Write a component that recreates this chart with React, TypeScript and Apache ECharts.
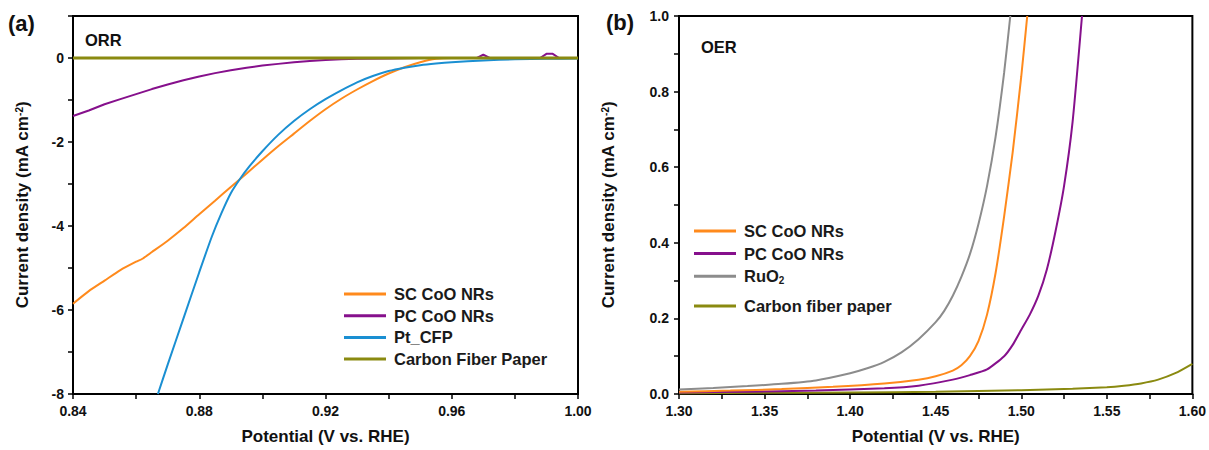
import React, { useEffect, useRef } from "react";
import * as echarts from "echarts";

// ---------- Panel (a) ORR ----------
const ORR_SC_X = [0.84, 0.845, 0.85, 0.855, 0.86, 0.862, 0.865, 0.87, 0.875, 0.88, 0.885, 0.89, 0.895, 0.9, 0.905, 0.91, 0.915, 0.92, 0.925, 0.93, 0.935, 0.94, 0.945, 0.95, 0.955, 0.96, 0.975, 0.98, 0.985, 1.0];
const ORR_SC_Y = [-5.85, -5.55, -5.3, -5.05, -4.85, -4.78, -4.62, -4.35, -4.05, -3.72, -3.4, -3.07, -2.75, -2.42, -2.1, -1.8, -1.5, -1.22, -0.97, -0.75, -0.55, -0.37, -0.22, -0.1, -0.02, 0, 0, -0.02, 0, 0];

const ORR_PC_X = [0.84, 0.845, 0.85, 0.855, 0.86, 0.865, 0.87, 0.875, 0.88, 0.885, 0.89, 0.895, 0.9, 0.905, 0.91, 0.915, 0.92, 0.925, 0.93, 0.94, 0.95, 0.968, 0.97, 0.972, 0.988, 0.99, 0.992, 0.994, 1.0];
const ORR_PC_Y = [-1.38, -1.25, -1.1, -0.98, -0.86, -0.74, -0.63, -0.53, -0.44, -0.36, -0.29, -0.23, -0.18, -0.14, -0.1, -0.07, -0.05, -0.03, -0.02, -0.01, 0, 0, 0.08, 0, 0, 0.1, 0.1, 0, 0];

const ORR_PT_X = [0.8669, 0.87, 0.875, 0.88, 0.884, 0.887, 0.89, 0.893, 0.896, 0.9, 0.905, 0.91, 0.915, 0.92, 0.925, 0.93, 0.935, 0.94, 0.945, 0.95, 0.955, 0.96, 0.97, 0.98, 0.99, 1.0];
const ORR_PT_Y = [-8, -7.3, -6.2, -5.1, -4.25, -3.7, -3.22, -2.87, -2.57, -2.22, -1.83, -1.5, -1.22, -0.98, -0.77, -0.58, -0.43, -0.31, -0.23, -0.17, -0.13, -0.1, -0.06, -0.03, -0.02, -0.01];

const ORR_CFP_X = [0.84, 1.0];
const ORR_CFP_Y = [0, 0];

// ---------- Panel (b) OER ----------
const OER_SC_X = [1.3, 1.33, 1.36, 1.39, 1.42, 1.44, 1.45, 1.46, 1.465, 1.47, 1.475, 1.48, 1.485, 1.49, 1.495, 1.5, 1.5035];
const OER_SC_Y = [0.006, 0.009, 0.013, 0.019, 0.028, 0.038, 0.047, 0.062, 0.076, 0.1, 0.14, 0.21, 0.32, 0.47, 0.64, 0.84, 1.0];

const OER_PC_X = [1.3, 1.34, 1.38, 1.42, 1.44, 1.46, 1.47, 1.48, 1.49, 1.495, 1.5, 1.505, 1.51, 1.515, 1.52, 1.525, 1.53, 1.5355];
const OER_PC_Y = [0.004, 0.006, 0.009, 0.015, 0.022, 0.038, 0.05, 0.065, 0.1, 0.13, 0.17, 0.21, 0.26, 0.33, 0.43, 0.55, 0.72, 1.0];

const OER_RU_X = [1.3, 1.32, 1.34, 1.36, 1.38, 1.4, 1.41, 1.42, 1.43, 1.44, 1.45, 1.455, 1.46, 1.465, 1.47, 1.475, 1.48, 1.485, 1.49, 1.4936];
const OER_RU_Y = [0.012, 0.016, 0.021, 0.027, 0.036, 0.055, 0.068, 0.085, 0.11, 0.145, 0.19, 0.22, 0.26, 0.31, 0.37, 0.45, 0.55, 0.68, 0.85, 1.0];

const OER_CFP_X = [1.3, 1.35, 1.4, 1.45, 1.5, 1.53, 1.55, 1.56, 1.57, 1.58, 1.59, 1.6];
const OER_CFP_Y = [0.002, 0.003, 0.004, 0.006, 0.01, 0.014, 0.018, 0.022, 0.028, 0.038, 0.055, 0.08];

const ORR_NAMES = ["SC CoO NRs", "PC CoO NRs", "Pt_CFP", "Carbon Fiber Paper"];
const OER_NAMES = ["SC CoO NRs", "PC CoO NRs", "RuO2", "Carbon fiber paper"];

const C_ORANGE = "#ff8a1c";
const C_PURPLE = "#86108c";
const C_BLUE = "#1a8fd2";
const C_GRAY = "#8c8c8c";
const C_OLIVE = "#8a8a10";

const FONT = "'Liberation Sans', Arial, sans-serif";

const zip = (xs: number[], ys: number[]) => xs.map((x, i) => [x, ys[i]]);

export default function App() {
  const ref = useRef<HTMLDivElement>(null);
  useEffect(() => {
    if (!ref.current) return;
    const chart = echarts.init(ref.current, null, { renderer: "svg" });
    const axisCommon = {
      type: "value" as const,
      splitLine: { show: false },
      axisLine: { show: true, onZero: false, lineStyle: { color: "#000", width: 2 } },
      axisTick: { show: true, length: 5, lineStyle: { color: "#000", width: 1.5 } },
      nameLocation: "middle" as const,
      nameTextStyle: {
        fontFamily: FONT,
        fontSize: 17,
        fontWeight: "bold" as const,
        color: "#111",
        rich: {
          sup: { fontFamily: FONT, fontSize: 10, fontWeight: "bold" as const, verticalAlign: "top" as const, color: "#111" },
        },
      },
    };
    const labelCommon = {
      fontFamily: FONT,
      fontSize: 14,
      fontWeight: "bold" as const,
      color: "#111",
    };
    const legendText = {
      fontFamily: FONT,
      fontSize: 16.5,
      fontWeight: "bold" as const,
      color: "#1a1a1a",
      lineHeight: 18,
      padding: [0, 0, 0, 3],
      rich: {
        sub: { fontFamily: FONT, fontSize: 10, fontWeight: "bold" as const, verticalAlign: "bottom" as const, lineHeight: 18, color: "#1a1a1a" },
      },
    };
    const legendBase = {
      orient: "vertical" as const,
      icon: "rect",
      itemWidth: 42,
      itemHeight: 3,
      padding: 0,
      selectedMode: false,
      textStyle: legendText,
      formatter: (n: string) => (n === "RuO2" ? "RuO{sub|2}" : n),
    };
    const lineSeries = (name: string, xs: number[], ys: number[], color: string, idx: number, width = 2, smooth = 0.2) => ({
      type: "line" as const,
      name,
      xAxisIndex: idx,
      yAxisIndex: idx,
      data: zip(xs, ys),
      showSymbol: false,
      symbol: "none",
      smooth,
      color,
      lineStyle: { color, width },
      clip: true,
    });

    chart.setOption({
      animation: false,
      backgroundColor: "#fff",
      grid: [
        { left: 73, right: 631, top: 16, bottom: 56, show: true, borderColor: "#000", borderWidth: 2, containLabel: false },
        { left: 679, right: 14, top: 16, bottom: 56, show: true, borderColor: "#000", borderWidth: 2, containLabel: false },
      ],
      xAxis: [
        {
          ...axisCommon,
          gridIndex: 0,
          min: 0.84,
          max: 1.0,
          interval: 0.02,
          name: "Potential (V vs. RHE)",
          nameGap: 34,
          axisLabel: {
            ...labelCommon,
            margin: 10,
            formatter: (v: number) => (Math.round(v * 100) % 4 === 0 ? v.toFixed(2) : ""),
          },
        },
        {
          ...axisCommon,
          gridIndex: 1,
          min: 1.3,
          max: 1.6,
          interval: 0.025,
          name: "Potential (V vs. RHE)",
          nameGap: 34,
          axisLabel: {
            ...labelCommon,
            margin: 10,
            formatter: (v: number) => (Math.round(v * 1000) % 50 === 0 ? v.toFixed(2) : ""),
          },
        },
      ],
      yAxis: [
        {
          ...axisCommon,
          gridIndex: 0,
          min: -8,
          max: 1,
          interval: 1,
          name: "Current density (mA cm{sup|-2})",
          nameGap: 42,
          axisLabel: {
            ...labelCommon,
            margin: 9,
            formatter: (v: number) => {
              const r = Math.round(v);
              return r % 2 === 0 && r <= 0 ? String(r) : "";
            },
          },
        },
        {
          ...axisCommon,
          gridIndex: 1,
          min: 0,
          max: 1,
          interval: 0.1,
          name: "Current density (mA cm{sup|-2})",
          nameGap: 62,
          axisLabel: {
            ...labelCommon,
            margin: 10,
            formatter: (v: number) => (Math.round(v * 10) % 2 === 0 ? v.toFixed(1) : ""),
          },
        },
      ],
      legend: [
        { ...legendBase, left: 344, top: 285, itemGap: 3.7, data: ORR_NAMES },
        { ...legendBase, left: 694, top: 222, itemGap: 4.6, data: OER_NAMES.slice(0, 3) },
        { ...legendBase, left: 694, top: 297, itemGap: 4.6, data: [OER_NAMES[3]] },
      ],
      graphic: [
        { type: "text", left: 8, top: 12, style: { text: "(a)", fontFamily: FONT, fontSize: 22, fontWeight: "bold", fill: "#111" } },
        { type: "text", left: 606, top: 11, style: { text: "(b)", fontFamily: FONT, fontSize: 22, fontWeight: "bold", fill: "#111" } },
        { type: "text", left: 85, top: 31, style: { text: "ORR", fontFamily: FONT, fontSize: 16.5, fontWeight: "bold", fill: "#111" } },
        { type: "text", left: 701, top: 38, style: { text: "OER", fontFamily: FONT, fontSize: 16.5, fontWeight: "bold", fill: "#111" } },
      ],
      series: [
        lineSeries(ORR_NAMES[0], ORR_SC_X, ORR_SC_Y, C_ORANGE, 0),
        lineSeries(ORR_NAMES[1], ORR_PC_X, ORR_PC_Y, C_PURPLE, 0, 2, 0),
        lineSeries(ORR_NAMES[2], ORR_PT_X, ORR_PT_Y, C_BLUE, 0),
        lineSeries(ORR_NAMES[3], ORR_CFP_X, ORR_CFP_Y, C_OLIVE, 0, 3, 0),
        lineSeries(OER_NAMES[3], OER_CFP_X, OER_CFP_Y, C_OLIVE, 1),
        lineSeries(OER_NAMES[1], OER_PC_X, OER_PC_Y, C_PURPLE, 1),
        lineSeries(OER_NAMES[0], OER_SC_X, OER_SC_Y, C_ORANGE, 1),
        lineSeries(OER_NAMES[2], OER_RU_X, OER_RU_Y, C_GRAY, 1),
      ],
    });
    return () => chart.dispose();
  }, []);
  return <div ref={ref} style={{ position: "fixed", left: 0, top: 0, width: 1209, height: 450 }} />;
}
